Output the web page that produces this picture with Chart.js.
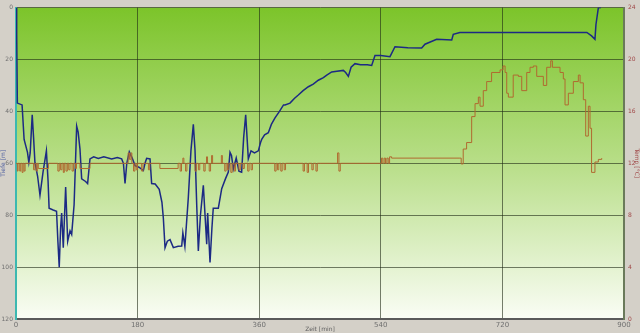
<!DOCTYPE html>
<html>
<head>
<meta charset="utf-8">
<script src="https://cdn.jsdelivr.net/npm/chart.js@4.4.1/dist/chart.umd.min.js"></script>
<style>
  html, body { margin: 0; padding: 0; background: #D4D0C8; }
  #wrap { width: 640px; height: 333px; position: relative; }
</style>
</head>
<body>
<div id="wrap"><canvas id="diveChart"></canvas></div>
<script>
// Tiefe [m] over Zeit [min]
const depthTime = [0, 1, 2, 9, 12, 17, 19, 21, 24, 26, 28, 32, 35.5, 40, 45, 47.5, 49, 55, 60, 62, 64, 66, 67.6, 70, 73.5, 76.5, 80, 82.4, 86, 89.8, 92, 94.7, 97.2, 103, 106, 109.5, 115, 121.8, 130, 141.6, 150, 156.4, 159, 161.4, 164, 167.7, 172, 176.2, 182, 188.5, 191, 193.4, 198.4, 200.8, 206, 212, 216, 218.1, 220.6, 224, 228, 232.9, 240, 245.3, 247, 250, 255, 259, 262.5, 265, 267.5, 269.9, 273, 277.3, 282.3, 283.7, 287.2, 290, 292, 299.5, 304.5, 310, 314.3, 316.8, 319, 321.7, 326, 330, 334, 337, 340, 342, 343.9, 347.9, 353, 358.7, 362, 363.7, 368, 373.5, 378, 383.4, 390, 396, 398.2, 405.6, 412, 417.9, 425, 432.8, 440, 447.5, 455, 460, 467.3, 475, 484.5, 488, 492, 496, 501.8, 510, 520, 526.5, 531.4, 540, 553.6, 561, 580, 600.5, 605.4, 622.7, 645, 647.3, 657, 700, 800, 845, 852, 857, 858.5, 862, 866];
const depth = [0, 10, 36.8, 37.5, 50.8, 55.8, 59.6, 56, 41.3, 50, 59.6, 65, 72.3, 63.4, 55.2, 67, 77.3, 78, 78.5, 90, 100, 85, 79.2, 92.5, 69.1, 90, 86, 87.4, 76, 45.7, 48, 54.5, 66, 67, 67.8, 58.3, 57.5, 58.1, 57.5, 58.3, 57.8, 58.3, 60, 67.8, 60, 55.6, 58, 60.9, 61.5, 62.8, 60, 58.1, 58.3, 67.8, 68, 70, 75, 81.1, 92.5, 90, 89.4, 92.5, 92, 91.9, 86.8, 92, 73.5, 55, 45, 55, 76, 93.8, 80, 68.5, 91.2, 79.2, 98.2, 85, 77.3, 77.3, 69.8, 66, 63.4, 55.8, 57, 62.2, 58, 63, 63.4, 50, 41.3, 50, 58.3, 55.2, 56, 55.2, 52, 50.8, 49, 48.2, 45, 42.5, 40, 37.5, 37.5, 36.8, 35, 33.7, 32, 30.5, 29.5, 28, 27, 26, 24.8, 24.5, 24.2, 25, 26.5, 23, 21.6, 22, 22, 22.3, 18.5, 18.5, 18.9, 15.1, 15.5, 15.6, 14.1, 12.2, 12.5, 10.3, 9.6, 9.6, 9.6, 9.6, 10.9, 12.2, 6.5, 0.1, 0];

// Temp [°C] over Zeit [min]
const tempTime = [0, 2, 3, 5.5, 7, 9, 10.5, 12, 13.5, 26, 28, 30, 31.5, 33, 48, 62, 64, 66, 68, 70, 71.5, 74, 76, 78, 80, 83, 85, 88, 89.5, 94.7, 109.5, 166, 168, 170, 171.5, 174, 176, 178, 180, 186, 188, 196, 198, 213, 240, 243, 245, 247, 248.5, 251, 253, 265, 267, 270, 272, 278, 280, 282, 283.5, 286, 288, 289.5, 291, 304, 305.5, 309, 311, 313, 315, 318, 320, 323, 325, 330, 332, 336, 338, 343, 345, 348, 350, 383, 385, 387, 389, 392, 394, 397, 399, 425, 427, 431, 433, 438, 440, 444, 446, 476, 478, 480, 541, 543, 545, 547, 549, 551, 553, 556, 657, 659, 662, 667, 674.5, 679.5, 684.4, 686.9, 691.7, 696.7, 704, 716.5, 721, 724, 726.4, 728.8, 736, 743.6, 748.6, 756, 760.9, 765.8, 770.8, 775.7, 780.6, 785.6, 791.5, 794, 805.3, 810.2, 812.7, 817.6, 825, 832.4, 835, 839.8, 843.3, 847.2, 849.7, 852, 857, 862, 867];
const temp = [12, 11.4, 12, 11.4, 12, 11.3, 12, 11.4, 12, 11.5, 12, 11.4, 12, 11.6, 12, 11.4, 12, 11.5, 12, 11.3, 12, 11.4, 12, 11.5, 12, 11.4, 12, 11.6, 12, 11.6, 12, 12.8, 12.3, 12.8, 12, 11.4, 12, 11.5, 12, 11.4, 12, 11.5, 12, 11.6, 12, 11.4, 12, 12.4, 12, 11.4, 12, 11.4, 12, 11.5, 12, 11.4, 12, 12.5, 12, 11.4, 12, 12.6, 12, 12.6, 12, 11.4, 12, 11.5, 12, 11.3, 12, 11.4, 12, 11.5, 12, 11.6, 12, 11.4, 12, 11.5, 12, 11.4, 12, 11.5, 12, 11.4, 12, 11.5, 12, 11.4, 12, 11.3, 12, 11.5, 12, 11.4, 12, 12.8, 11.4, 12, 12.4, 12, 12.4, 12, 12.4, 12, 12.5, 12.4, 12.4, 11.95, 13.1, 13.6, 15.6, 16.6, 17.1, 16.4, 17.6, 18.3, 19.0, 19.2, 19.5, 19.0, 17.4, 17.1, 18.8, 18.7, 17.6, 19.0, 19.4, 19.5, 18.7, 18.7, 18.0, 19.4, 19.9, 19.4, 19.0, 18.5, 16.5, 17.4, 18.3, 18.8, 18.2, 16.9, 14.1, 16.4, 14.7, 11.3, 12.1, 12.3, 12.4];

const timeTicks = [0, 180, 360, 540, 720, 900];
const depthTicks = [0, 20, 40, 60, 80, 100, 120];
const tempTicks = [0, 4, 8, 12, 16, 20, 24];

const depthPoints = depthTime.map((t, i) => ({ x: t, y: depth[i] }));
const tempPoints = tempTime.map((t, i) => ({ x: t, y: temp[i] }));

// green gradient behind the plot
const plotBackground = {
    id: 'plotBackground',
    beforeDraw(chart) {
        const { ctx, chartArea: a } = chart;
        const g = ctx.createLinearGradient(0, a.top, 0, a.bottom);
        g.addColorStop(0, '#7CC42A');
        g.addColorStop(0.5, '#B8DE88');
        g.addColorStop(1, '#FAFDF5');
        ctx.save();
        ctx.fillStyle = g;
        ctx.fillRect(a.left, a.top, a.right - a.left, a.bottom - a.top);
        ctx.restore();
    }
};

const gridColor = 'rgba(30,40,20,0.6)';

const config = {
    type: 'line',
    data: {
        datasets: [
            {
                label: 'Temp',
                data: tempPoints,
                yAxisID: 'y2',
                borderColor: '#B06A30',
                borderWidth: 1,
                pointRadius: 0,
                stepped: true,
                fill: false
            },
            {
                label: 'Tiefe',
                data: depthPoints,
                yAxisID: 'y',
                borderColor: '#1C2A84',
                borderWidth: 1.5,
                pointRadius: 0,
                tension: 0,
                fill: false
            }
        ]
    },
    options: {
        responsive: true,
        maintainAspectRatio: false,
        animation: false,
        layout: { padding: { top: 3, left: 0, right: 0, bottom: 0 } },
        plugins: { legend: { display: false }, tooltip: { enabled: false } },
        scales: {
            x: {
                type: 'linear',
                min: 0,
                max: 900,
                afterBuildTicks: s => { s.ticks = timeTicks.map(v => ({ value: v })); },
                afterFit: s => { s.height = 14; },
                grid: { color: gridColor, drawTicks: false },
                border: { color: '#5A5A5A', width: 2 },
                ticks: { color: '#707070', font: { size: 7, family: 'DejaVu Sans' }, padding: 2, maxRotation: 0 },
                title: { display: true, text: 'Zeit [min]', color: '#606060', font: { size: 6, family: 'DejaVu Sans' }, padding: 0 }
            },
            y: {
                position: 'left',
                reverse: true,
                min: 0,
                max: 120,
                afterBuildTicks: s => { s.ticks = depthTicks.map(v => ({ value: v })); },
                afterFit: s => { s.width = 16; },
                grid: { color: gridColor, drawTicks: false },
                border: { color: '#3CB8B0', width: 2 },
                ticks: { color: '#707070', font: { size: 6, family: 'DejaVu Sans' }, padding: 3 },
                title: { display: true, text: 'Tiefe [m]', color: '#5060A0', font: { size: 6, family: 'DejaVu Sans' }, padding: 0 }
            },
            y2: {
                position: 'right',
                min: 0,
                max: 24,
                afterBuildTicks: s => { s.ticks = tempTicks.map(v => ({ value: v })); },
                afterFit: s => { s.width = 16; },
                grid: { display: false, drawTicks: false },
                border: { color: '#6A7A5A', width: 2 },
                ticks: { color: '#A04848', font: { size: 6, family: 'DejaVu Sans' }, padding: 4 },
                title: { display: true, text: 'Temp [°C]', color: '#A04848', font: { size: 6, family: 'DejaVu Sans' }, padding: 0 }
            }
        }
    },
    plugins: [plotBackground]
};

const diveChart = new Chart(document.querySelector('#diveChart'), config);
</script>
</body>
</html>
